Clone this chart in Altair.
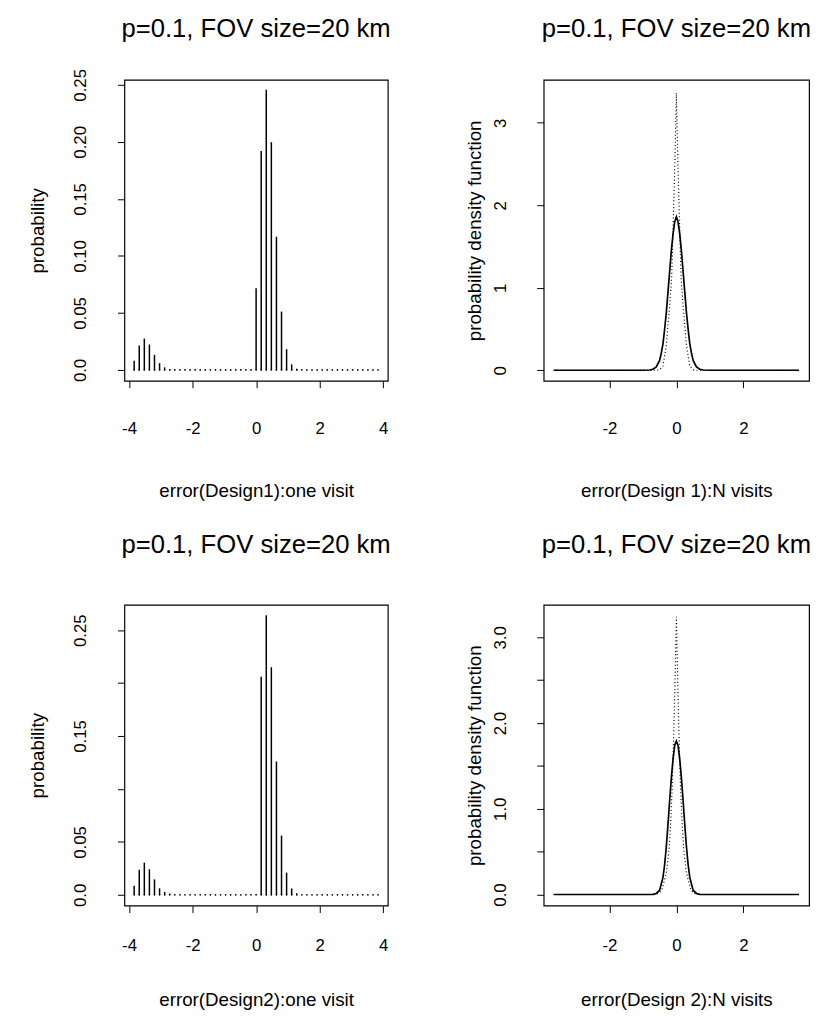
import altair as alt
import pandas as pd

FONT = "Liberation Sans"

TITLE = "p=0.1, FOV size=20 km"

# ---- one-visit error grid (shared x positions of the spikes) ----
X_ONE = [-3.84, -3.68, -3.52, -3.36, -3.20, -3.04, -2.88, -2.72, -2.56, -2.40,
         -2.24, -2.08, -1.92, -1.76, -1.60, -1.44, -1.28, -1.12, -0.96, -0.80,
         -0.64, -0.48, -0.32, -0.16, 0.00, 0.16, 0.32, 0.48, 0.64, 0.80,
         0.96, 1.12, 1.28, 1.44, 1.60, 1.76, 1.92, 2.08, 2.24, 2.40,
         2.56, 2.72, 2.88, 3.04, 3.20, 3.36, 3.52, 3.68, 3.84]

# Design 1, one visit (probabilities)
P_D1 = [0.0081, 0.0214, 0.0275, 0.0223, 0.0133, 0.0060, 0.0023, 0.0008, 0.0003, 0.0001,
        0.0001, 0.0001, 0.0001, 0.0001, 0.0001, 0.0001, 0.0001, 0.0001, 0.0001, 0.0001,
        0.0001, 0.0001, 0.0001, 0.0001, 0.0717, 0.1920, 0.2457, 0.1997, 0.1168, 0.0512,
        0.0182, 0.0049, 0.0010, 0.0, 0.0, 0.0, 0.0, 0.0, 0.0, 0.0,
        0.0, 0.0, 0.0, 0.0, 0.0, 0.0, 0.0, 0.0, 0.0]

# Design 2, one visit (probabilities)
P_D2 = [0.0087, 0.0236, 0.0304, 0.0242, 0.0146, 0.0062, 0.0028, 0.0012, 0.0004, 0.0001,
        0.0001, 0.0001, 0.0001, 0.0001, 0.0001, 0.0001, 0.0001, 0.0001, 0.0001, 0.0001,
        0.0001, 0.0001, 0.0001, 0.0001, 0.0005, 0.2060, 0.2640, 0.2150, 0.1260, 0.0560,
        0.0210, 0.0060, 0.0015, 0.0, 0.0, 0.0, 0.0, 0.0, 0.0, 0.0,
        0.0, 0.0, 0.0, 0.0, 0.0, 0.0, 0.0, 0.0, 0.0]

# Design 1, N visits: solid density
D1_SOLID_X = [-3.66, -1.0, -0.8, -0.7, -0.6, -0.5, -0.45, -0.4, -0.35, -0.3, -0.25, -0.2, -0.15,
              -0.1, -0.05, 0.0, 0.05, 0.1, 0.15, 0.2, 0.25, 0.3, 0.35, 0.4, 0.45, 0.5,
              0.6, 0.7, 0.8, 1.0, 3.66]
D1_SOLID_Y = [0.0, 0.0, 0.003, 0.012, 0.04, 0.12, 0.21, 0.32, 0.50, 0.70, 0.95, 1.20, 1.45,
              1.65, 1.80, 1.86, 1.80, 1.65, 1.45, 1.20, 0.95, 0.70, 0.50, 0.32, 0.21, 0.12,
              0.04, 0.012, 0.003, 0.0, 0.0]
# Design 1, N visits: dotted density
D1_DOT_X = [-3.66, -0.6, -0.5, -0.4, -0.3, -0.25, -0.2, -0.14, -0.09, -0.04, 0.0,
            0.04, 0.09, 0.14, 0.2, 0.25, 0.3, 0.4, 0.5, 0.6, 3.66]
D1_DOT_Y = [0.0, 0.0, 0.005, 0.05, 0.30, 0.55, 0.78, 1.13, 1.86, 2.60, 3.36,
            2.60, 1.86, 1.13, 0.78, 0.55, 0.30, 0.05, 0.005, 0.0, 0.0]

# Design 2, N visits: solid density
D2_SOLID_X = [-3.66, -1.0, -0.7, -0.6, -0.5, -0.4, -0.35, -0.3, -0.25, -0.2, -0.15, -0.1,
              -0.05, 0.0, 0.05, 0.1, 0.15, 0.2, 0.25, 0.3, 0.35, 0.4, 0.5, 0.6, 0.7,
              1.0, 3.66]
D2_SOLID_Y = [0.0, 0.0, 0.002, 0.012, 0.05, 0.20, 0.35, 0.56, 0.82, 1.10, 1.36, 1.58,
              1.74, 1.79, 1.74, 1.58, 1.36, 1.10, 0.82, 0.56, 0.35, 0.20, 0.05, 0.012, 0.002,
              0.0, 0.0]
# Design 2, N visits: dotted density
D2_DOT_X = [-3.66, -0.6, -0.5, -0.42, -0.3, -0.22, -0.17, -0.12, -0.08, -0.04, 0.0,
            0.04, 0.08, 0.12, 0.17, 0.22, 0.3, 0.42, 0.5, 0.6, 3.66]
D2_DOT_Y = [0.0, 0.0, 0.02, 0.07, 0.25, 0.52, 0.84, 1.30, 1.85, 2.50, 3.24,
            2.50, 1.85, 1.30, 0.84, 0.52, 0.25, 0.07, 0.02, 0.0, 0.0]

PW, PH = 267, 305


def title_params(offset):
    return alt.TitleParams(TITLE, fontSize=26, font=FONT, fontWeight="normal",
                           anchor="middle", baseline="alphabetic", offset=offset,
                           frame="group", color="black")


def hist_panel(p, xtitle, yvals, ylabelexpr, ydom, toff, xlab_pad, xtitle_pad):
    df = pd.DataFrame({"x": X_ONE, "p": p, "z": [0.0] * len(X_ONE)})
    xs = alt.Scale(domain=[-4.147, 4.147], nice=False, zero=False)
    ys = alt.Scale(domain=ydom, nice=False, zero=False)
    xax = alt.Axis(values=[-4, -2, 0, 2, 4], labelExpr="datum.value + ''", title=xtitle,
                   labelPadding=xlab_pad, titlePadding=xtitle_pad)
    yax = alt.Axis(values=yvals, labelExpr=ylabelexpr, title="probability", labelAngle=270,
                   labelAlign="center", labelBaseline="bottom", labelPadding=28, titlePadding=25)
    base = alt.Chart(df)
    rules = base.mark_rule(strokeWidth=1.5, color="black").encode(
        x=alt.X("x:Q", scale=xs, axis=xax),
        y=alt.Y("p:Q", scale=ys, axis=yax),
        y2="z:Q",
    )
    dots = base.mark_circle(size=3, color="black", opacity=1).encode(
        x=alt.X("x:Q", scale=xs, axis=xax),
        y=alt.Y("z:Q", scale=ys, axis=yax),
    )
    return alt.layer(rules, dots).properties(width=PW, height=PH, title=title_params(toff))


def dens_panel(sx, sy, dx, dy, xtitle, yvals, ylabelexpr, ydom, toff, xlab_pad, xtitle_pad):
    ds = pd.DataFrame({"x": sx, "y": sy})
    dd = pd.DataFrame({"x": dx, "y": dy})
    xs = alt.Scale(domain=[-3.96, 3.96], nice=False, zero=False)
    ys = alt.Scale(domain=ydom, nice=False, zero=False)
    xax = alt.Axis(values=[-2, 0, 2], labelExpr="datum.value + ''", title=xtitle,
                   labelPadding=xlab_pad, titlePadding=xtitle_pad)
    yax = alt.Axis(values=yvals, labelExpr=ylabelexpr, title="probability density function",
                   labelAngle=270, labelAlign="center", labelBaseline="bottom",
                   labelPadding=28, titlePadding=7)
    solid = alt.Chart(ds).mark_line(strokeWidth=1.7, color="black").encode(
        x=alt.X("x:Q", scale=xs, axis=xax),
        y=alt.Y("y:Q", scale=ys, axis=yax),
    )
    dotted = alt.Chart(dd).mark_line(strokeWidth=1.2, color="black", strokeDash=[1, 2.5]).encode(
        x=alt.X("x:Q", scale=xs, axis=xax),
        y=alt.Y("y:Q", scale=ys, axis=yax),
    )
    return alt.layer(solid, dotted).properties(width=269, height=PH, title=title_params(toff))


tl = hist_panel(P_D1, "error(Design1):one visit", [0, 0.05, 0.10, 0.15, 0.20, 0.25],
                "datum.value == 0 ? '0.0' : format(datum.value, '.2f')",
                [-0.0095, 0.2543], 6, 33, 46)
tr = dens_panel(D1_SOLID_X, D1_SOLID_Y, D1_DOT_X, D1_DOT_Y, "error(Design 1):N visits",
                [0, 1, 2, 3], "datum.value + ''", [-0.128, 3.52], 17, 33, 46)
bl = hist_panel(P_D2, "error(Design2):one visit", [0, 0.05, 0.10, 0.15, 0.20, 0.25],
                "datum.value == 0 ? '0.0' : (round(datum.value * 100) % 10 == 5 ? format(datum.value, '.2f') : '')",
                [-0.0102, 0.274], 26, 25, 38)
br = dens_panel(D2_SOLID_X, D2_SOLID_Y, D2_DOT_X, D2_DOT_Y, "error(Design 2):N visits",
                [0, 0.5, 1, 1.5, 2, 2.5, 3],
                "datum.value % 1 == 0 ? format(datum.value, '.1f') : ''",
                [-0.13, 3.38], 26, 25, 38)

chart = alt.concat(tl, tr, bl, br, columns=2, spacing={"row": 227, "column": 158},
                   bounds="flush").properties(
    padding={"left": 20, "top": 0, "right": 2, "bottom": 2},
    background="white",
).configure_view(
    stroke="black", strokeWidth=1.2
).configure_axis(
    domain=False, grid=False, ticks=True, tickColor="black", tickWidth=1, tickSize=7,
    labelColor="black", labelFont=FONT, labelFontSize=17,
    titleColor="black", titleFont=FONT, titleFontSize=19, titleFontWeight="normal",
)

chart.save("out.html", embed_options={"renderer": "svg", "actions": False})
